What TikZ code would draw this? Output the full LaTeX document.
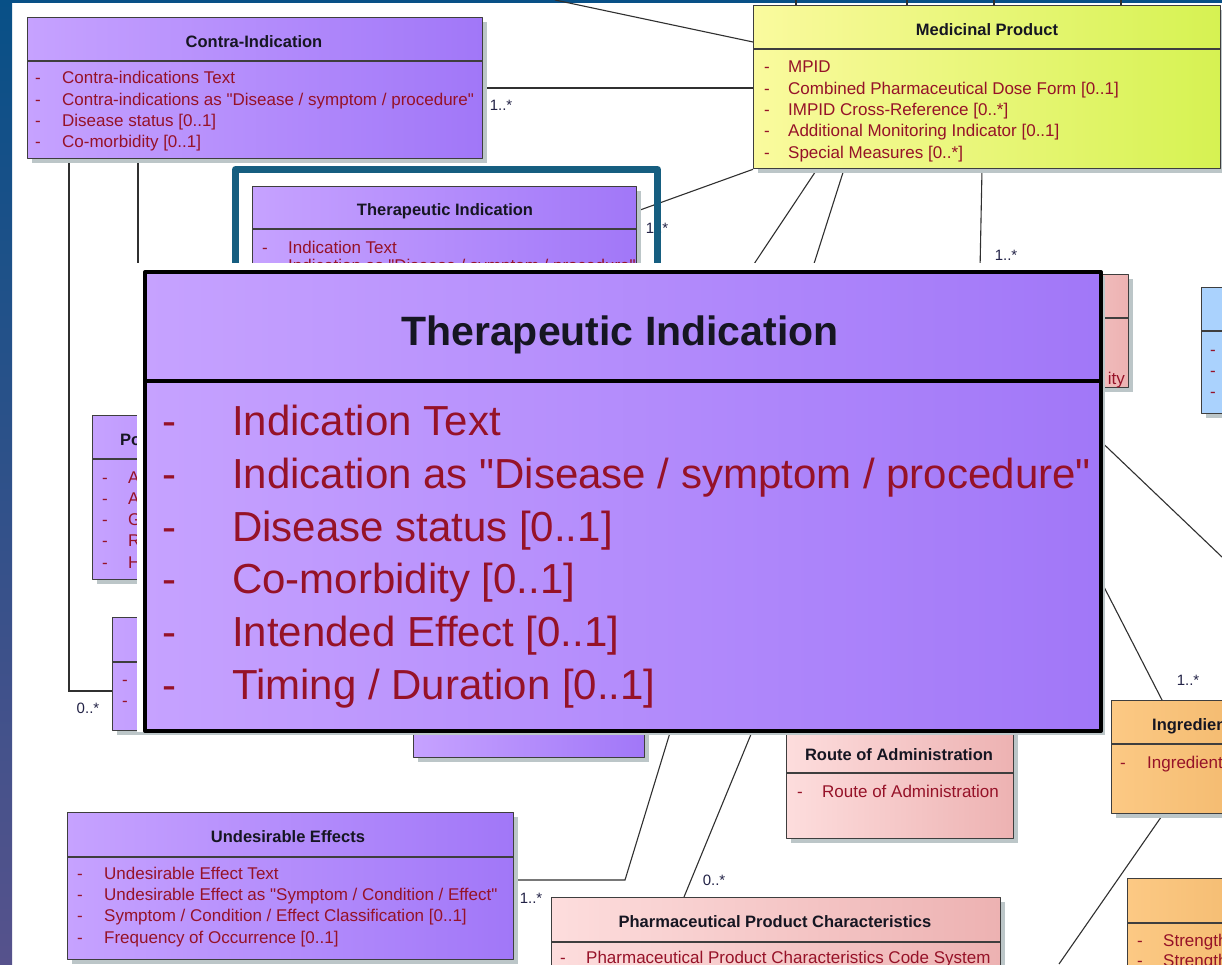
\documentclass[tikz,border=0pt]{standalone}
\usepackage{fontspec}
\setmainfont{Liberation Sans}
\usetikzlibrary{shadows}
\definecolor{violetl}{RGB}{198,162,255}
\definecolor{violetr}{RGB}{161,119,248}
\definecolor{yellowl}{RGB}{250,250,158}
\definecolor{yellowr}{RGB}{214,242,82}
\definecolor{pinkl}{RGB}{253,221,221}
\definecolor{pinkr}{RGB}{237,178,178}
\definecolor{orangel}{RGB}{252,201,132}
\definecolor{oranger}{RGB}{242,184,108}
\definecolor{bluebox}{RGB}{170,210,253}
\definecolor{attrred}{RGB}{150,18,40}
\definecolor{hdtext}{RGB}{22,22,34}
\definecolor{multtext}{RGB}{34,34,70}
\definecolor{clsline}{RGB}{62,62,62}
\definecolor{connline}{RGB}{48,48,48}
\definecolor{shadowgray}{RGB}{188,198,200}
\definecolor{framecol}{RGB}{22,94,128}
\definecolor{stripblue}{RGB}{8,80,135}
\definecolor{stripmid}{RGB}{8,106,172}
\definecolor{stripviolet}{RGB}{86,82,140}
\pgfdeclarelayer{bg}
\pgfdeclarelayer{lines}
\pgfsetlayers{bg,lines,main}
\tikzset{cls/.style={draw=clsline, line width=1.3pt, anchor=north west, inner sep=0pt,
  drop shadow={shadow xshift=4pt, shadow yshift=-4pt, fill=shadowgray, opacity=1}}}
\tikzset{violetbox/.style={cls, left color=violetl, right color=violetr}}
\tikzset{yellowbox/.style={cls, left color=yellowl, right color=yellowr}}
\tikzset{pinkbox/.style={cls, left color=pinkl, right color=pinkr}}
\tikzset{orangebox/.style={cls, left color=orangel, right color=oranger}}
\tikzset{skybox/.style={cls, fill=bluebox}}
\tikzset{divline/.style={draw=clsline, line width=1.3pt}}
\tikzset{hd/.style={font=\fontsize{16.5}{16.5}\bfseries\selectfont, text=hdtext, inner sep=0pt}}
\tikzset{attr/.style={font=\fontsize{17}{17}\selectfont, text=attrred, anchor=mid west, inner sep=0pt, yshift=-3.5pt}}
\tikzset{mult/.style={font=\fontsize{15}{15}\selectfont, text=multtext, inner sep=0pt}}
\tikzset{conn/.style={draw=connline, line width=1.1pt}}
\tikzset{bighd/.style={font=\fontsize{41}{41}\bfseries\selectfont, text=hdtext, inner sep=0pt, yshift=-2pt}}
\tikzset{bigattr/.style={font=\fontsize{42}{42}\selectfont, text=attrred, anchor=mid west, inner sep=0pt, yshift=-11pt}}

\begin{document}
\begin{tikzpicture}[x=1pt, y=-1pt, line join=round]
\useasboundingbox (0,0) rectangle (1222,964);
\begin{pgfonlayer}{bg}
  \fill[white] (0,0) rectangle (1222,964);
  \shade[top color=stripblue, middle color=stripmid, bottom color=stripviolet] (0,0) rectangle (12,964);
  \fill[stripblue] (0,0) rectangle (1222,3);
\end{pgfonlayer}
\clip (0,0) rectangle (1222,964);

% classes of the diagram
\node[violetbox, minimum width=455pt, minimum height=141pt] (ci) at (27,17) {};
\draw[divline] (27,61) -- (482,61);
\node[hd] (ci-t) at (254,42) {Contra-Indication};
\node[attr] (ci-1) at (35,77) {\makebox[27pt][l]{-}Contra-indications Text};
\node[attr] (ci-2) at (35,99) {\makebox[27pt][l]{-}Contra-indications as \textquotedbl Disease / symptom / procedure\textquotedbl};
\node[attr] (ci-3) at (35,120) {\makebox[27pt][l]{-}Disease status [0..1]};
\node[attr] (ci-4) at (35,141) {\makebox[27pt][l]{-}Co-morbidity [0..1]};

\node[yellowbox, minimum width=467pt, minimum height=163pt] (mp) at (753,5) {};
\draw[divline] (753,49) -- (1220,49);
\node[hd] (mp-t) at (987,30) {Medicinal Product};
\node[attr] (mp-1) at (764,66) {\makebox[24pt][l]{-}MPID};
\node[attr] (mp-2) at (764,88) {\makebox[24pt][l]{-}Combined Pharmaceutical Dose Form [0..1]};
\node[attr] (mp-3) at (764,109) {\makebox[24pt][l]{-}IMPID Cross-Reference [0..*]};
\node[attr] (mp-4) at (764,130) {\makebox[24pt][l]{-}Additional Monitoring Indicator [0..1]};
\node[attr] (mp-5) at (764,152) {\makebox[24pt][l]{-}Special Measures [0..*]};

\node[violetbox, minimum width=384pt, minimum height=120pt] (tis) at (252,186) {};
\draw[divline] (252,229) -- (636,229);
\node[hd] (tis-t) at (445,211) {Therapeutic Indication};
\node[attr] (tis-1) at (262,247) {\makebox[26pt][l]{-}Indication Text};
\node[attr] (tis-2) at (262,265) {\makebox[26pt][l]{-}Indication as \textquotedbl Disease / symptom / procedure\textquotedbl};

\node[violetbox, minimum width=300pt, minimum height=164pt] (po) at (92,415) {};
\draw[divline] (92,459) -- (392,459);
\node[hd, anchor=west] (po-t) at (120,440) {Po};
\node[attr] (po-1) at (102,477) {\makebox[26pt][l]{-}A};
\node[attr] (po-2) at (102,498) {\makebox[26pt][l]{-}A};
\node[attr] (po-3) at (102,519) {\makebox[26pt][l]{-}G};
\node[attr] (po-4) at (102,540) {\makebox[26pt][l]{-}R};
\node[attr] (po-5) at (102,562) {\makebox[26pt][l]{-}H};

\node[violetbox, minimum width=300pt, minimum height=113pt] (sub) at (112,617) {};
\draw[divline] (112,662) -- (412,662);
\node[attr] (sub-1) at (122,679) {-};
\node[attr] (sub-2) at (122,700) {-};

\node[violetbox, minimum width=231pt, minimum height=57pt] (eff) at (413,700) {};

\node[pinkbox, minimum width=128pt, minimum height=113pt] (pop) at (1000,274) {};
\draw[divline] (1000,318) -- (1128,318);
\node[attr, anchor=mid east] (pop-1) at (1125,378) {ity};

\node[skybox, minimum width=60pt, minimum height=126pt] (sky) at (1201,287) {};
\draw[divline] (1201,331) -- (1261,331);
\node[attr] (sky-1) at (1210,349) {-};
\node[attr] (sky-2) at (1210,370) {-};
\node[attr] (sky-3) at (1210,391) {-};

\node[pinkbox, minimum width=227pt, minimum height=118pt] (roa) at (786,720) {};
\draw[divline] (786,773) -- (1013,773);
\node[hd] (roa-t) at (899,755) {Route of Administration};
\node[attr] (roa-1) at (797,791) {\makebox[25pt][l]{-}Route of Administration};

\node[orangebox, minimum width=150pt, minimum height=113pt] (ingr) at (1111,700) {};
\draw[divline] (1111,744) -- (1261,744);
\node[hd, anchor=west] (ingr-t) at (1152,726) {Ingredient};
\node[attr] (ingr-1) at (1120,762) {\makebox[27pt][l]{-}Ingredient};

\node[orangebox, minimum width=150pt, minimum height=120pt] (str) at (1127,878) {};
\draw[divline] (1127,923) -- (1277,923);
\node[attr] (str-1) at (1137,940) {\makebox[26pt][l]{-}Strength};
\node[attr] (str-2) at (1137,960) {\makebox[26pt][l]{-}Strength};

\node[violetbox, minimum width=446pt, minimum height=147pt] (ue) at (67,812) {};
\draw[divline] (67,857) -- (513,857);
\node[hd] (ue-t) at (288,837) {Undesirable Effects};
\node[attr] (ue-1) at (77,873) {\makebox[27pt][l]{-}Undesirable Effect Text};
\node[attr] (ue-2) at (77,894) {\makebox[27pt][l]{-}Undesirable Effect as \textquotedbl Symptom / Condition / Effect\textquotedbl};
\node[attr] (ue-3) at (77,915) {\makebox[27pt][l]{-}Symptom / Condition / Effect Classification [0..1]};
\node[attr] (ue-4) at (77,937) {\makebox[27pt][l]{-}Frequency of Occurrence [0..1]};

\node[pinkbox, minimum width=449pt, minimum height=100pt] (ppc) at (551,897) {};
\draw[divline] (551,942) -- (1000,942);
\node[hd] (ppc-t) at (775,922) {Pharmaceutical Product Characteristics};
\node[attr] (ppc-1) at (560,957) {\makebox[26pt][l]{-}Pharmaceutical Product Characteristics Code System};

% the magnified class
\node[inner sep=0pt, minimum width=956pt, minimum height=459pt, anchor=north west] (ti) at (143,270) {};

% associations
\coordinate (top-a) at (555,0);
\coordinate (right-a) at (1222,557);
\coordinate (low-a) at (1059,964);
\begin{pgfonlayer}{lines}
  \draw[conn] (top-a) -- ([yshift=-37pt]mp.north west);
  \draw[conn] ([xshift=43pt]mp.north west) -- ++(0,-6);
  \draw[conn] ([xshift=154pt]mp.north west) -- ++(0,-6);
  \draw[conn] ([xshift=241pt]mp.north west) -- ++(0,-6);
  \draw[conn] ([xshift=368pt]mp.north west) -- ++(0,-6);
  \draw[conn] ([yshift=-71pt]ci.north east) -- ([yshift=-83pt]mp.north west);
  \draw[conn] ([yshift=-25pt]tis.north east) -- (mp.south west);
  \draw[conn] ([xshift=64pt]mp.south west) -- ([xshift=607pt]ti.north west);
  \draw[conn] ([xshift=91pt]mp.south west) -- ([xshift=669pt]ti.north west);
  \draw[conn] ([xshift=229pt]mp.south west) -- ([xshift=837pt]ti.north west);
  \draw[conn] ([xshift=42pt]ci.south west) |- ([yshift=-74pt]sub.north west);
  \draw[conn] ([xshift=111pt]ci.south west) -- ([xshift=-5pt]ti.north west);
  \draw[conn] ([xshift=528pt]ti.south west) -- (625,880) -- ([yshift=-68pt]ue.north east);
  \draw[conn] ([xshift=610pt]ti.south west) -- ([xshift=133pt]ppc.north west);
  \draw[conn] ([yshift=-170pt]ti.north east) -- (right-a);
  \draw[conn] ([yshift=-308pt]ti.north east) -- ([xshift=51pt]ingr.north west);
  \draw[conn] ([xshift=52pt]ingr.south west) -- (low-a);
\end{pgfonlayer}

% multiplicities
\node[mult] (m-ci) at (501,105) {1..*};
\node[mult] (m-tis) at (657,228) {1..*};
\node[mult] (m-mp) at (1006,255) {1..*};
\node[mult] (m-sub) at (88,708) {0..*};
\node[mult] (m-ingr) at (1188,680) {1..*};
\node[mult] (m-ue) at (531,898) {1..*};
\node[mult] (m-ppc) at (714,880) {0..*};

% highlight frame and zoomed box
\draw[draw=framecol, line width=7pt] (235.5,169.5) rectangle (657.5,300);
\fill[white] (137,263) rectangle (1101,732);
\node[draw=black, line width=4pt, left color=violetl, right color=violetr, inner sep=0pt,
  minimum width=956pt, minimum height=459pt, anchor=north west,
  drop shadow={shadow xshift=4pt, shadow yshift=-4pt, fill=shadowgray, opacity=1}] (tib) at (143,270) {};
\draw[draw=black, line width=4pt] (143,381) -- (1099,381);
\node[bighd] (tib-t) at (620,333) {Therapeutic Indication};
\node[bigattr] (tib-1) at (162,422) {\makebox[70pt][l]{-}Indication Text};
\node[bigattr] (tib-2) at (162,475) {\makebox[70pt][l]{-}Indication as \textquotedbl Disease / symptom / procedure\textquotedbl};
\node[bigattr] (tib-3) at (162,528) {\makebox[70pt][l]{-}Disease status [0..1]};
\node[bigattr] (tib-4) at (162,580) {\makebox[70pt][l]{-}Co-morbidity [0..1]};
\node[bigattr] (tib-5) at (162,633) {\makebox[70pt][l]{-}Intended Effect [0..1]};
\node[bigattr] (tib-6) at (162,686) {\makebox[70pt][l]{-}Timing / Duration [0..1]};
\end{tikzpicture}
\end{document}
